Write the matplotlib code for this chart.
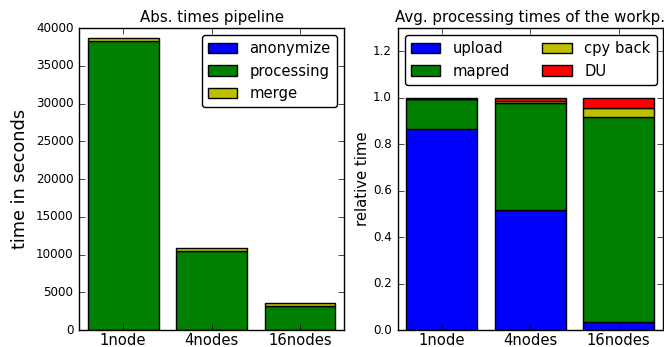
import matplotlib
matplotlib.use("Agg")
import matplotlib.pyplot as plt
import numpy as np

plt.style.use('classic')

categories = ["1node", "4nodes", "16nodes"]

# Absolute times (seconds)
anonymize = [40, 30, 20]
processing = [38300, 10470, 3160]
merge = [330, 330, 360]

# Relative times
upload = [0.866, 0.515, 0.033]
mapred = [0.127, 0.463, 0.885]
cpy_back = [0.003, 0.006, 0.036]
du = [0.004, 0.016, 0.046]

W, H = 664, 347
fig = plt.figure(figsize=(W / 100, H / 100), dpi=100)
fig.patch.set_facecolor('white')

ax1 = fig.add_axes([79 / W, 17 / H, 265 / W, 302 / H])
ax2 = fig.add_axes([397.5 / W, 17 / H, 265.5 / W, 302 / H])

x = np.arange(len(categories))
w = 0.8

# Left chart
b = np.zeros(len(categories))
for vals, col, lab in [(anonymize, 'b', 'anonymize'),
                       (processing, 'g', 'processing'),
                       (merge, 'y', 'merge')]:
    ax1.bar(x, vals, w, bottom=b, color=col, label=lab, align='edge',
            edgecolor='k', linewidth=1)
    b = b + np.array(vals)
ax1.set_xlim(-0.1, 2.9)
ax1.set_ylim(0, 40000)
ax1.set_xticks(x + w / 2)
ax1.set_xticklabels(categories, fontsize=10.6)
ax1.tick_params(axis='x', pad=2)
ax1.tick_params(axis='y', labelsize=8.6)
ax1.set_ylabel("time in seconds", fontsize=12.8)
ax1.set_title("Abs. times pipeline", fontsize=10.8, pad=4)
ax1.legend(loc='upper right', fontsize=10.6, fancybox=True, handletextpad=0.85)

# Right chart
b = np.zeros(len(categories))
for vals, col, lab in [(upload, 'b', 'upload'),
                       (mapred, 'g', 'mapred'),
                       (cpy_back, 'y', 'cpy back'),
                       (du, 'r', 'DU')]:
    ax2.bar(x, vals, w, bottom=b, color=col, label=lab, align='edge',
            edgecolor='k', linewidth=1)
    b = b + np.array(vals)
ax2.set_xlim(-0.1, 2.9)
ax2.set_ylim(0, 1.3)
ax2.set_yticks(np.arange(0, 1.21, 0.2))
ax2.set_xticks(x + w / 2)
ax2.set_xticklabels(categories, fontsize=10.6)
ax2.tick_params(axis='x', pad=2)
ax2.tick_params(axis='y', labelsize=8.6)
ax2.set_ylabel("relative time", fontsize=10.7, labelpad=2)
ax2.set_title("Avg. processing times of the workp.", fontsize=10.8, pad=4)
ax2.legend(loc='upper left', ncol=2, fontsize=10.6, fancybox=True,
           handletextpad=0.85, columnspacing=2.2)

fig.savefig("out.png", dpi=100, facecolor='white')
